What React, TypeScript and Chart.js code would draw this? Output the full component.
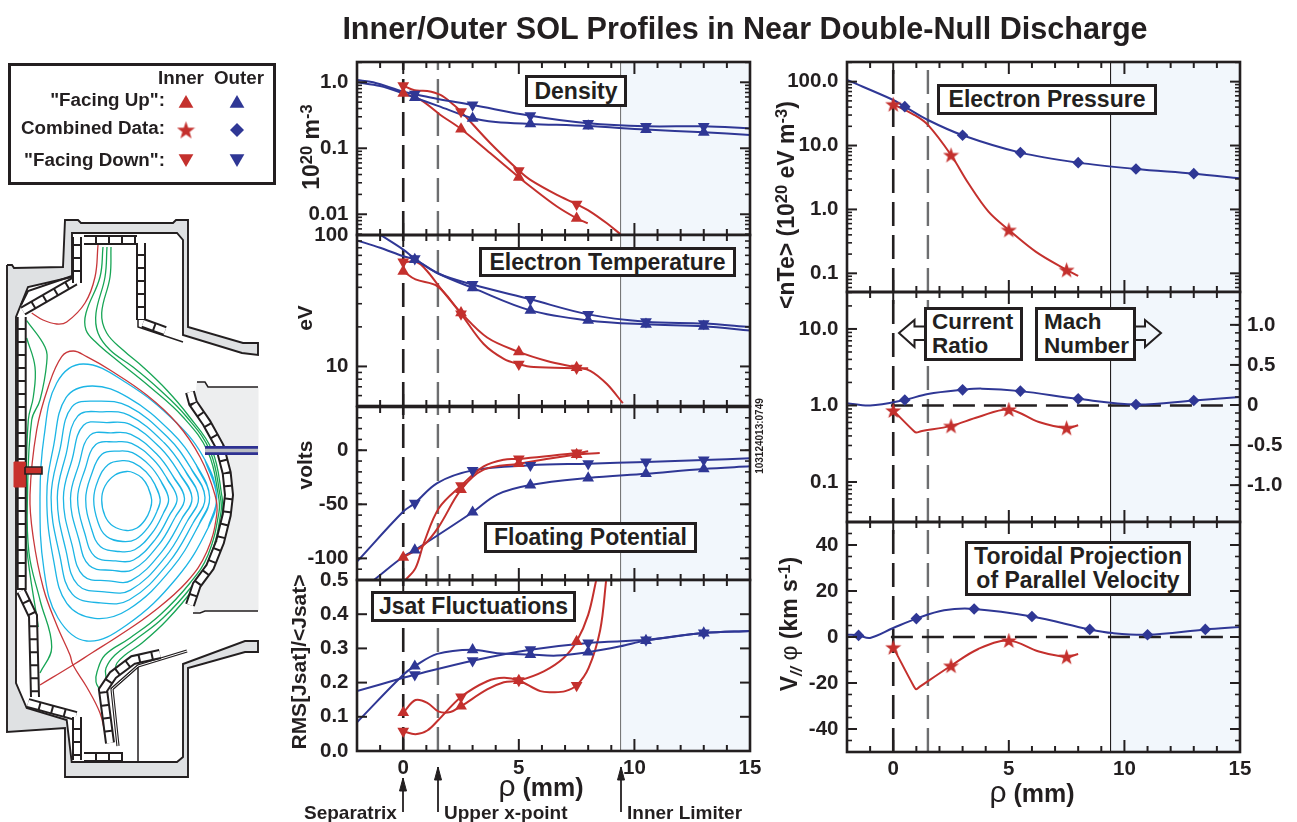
import React, { useEffect, useRef } from "react";
import { Chart, registerables } from "chart.js";
Chart.register(...registerables);

type P = [number, number];
const FONT = '"Liberation Sans", Arial, sans-serif';
const DARK = "#231f20";
const RED = "#c4302d";
const BLUE = "#2f3795";
const SHADE = "#f2f7fc";

// rho positions of the probe points
const rhoOuter = [0.5, 3, 5.5, 8, 10.5, 13];
const rhoInner = [0, 2.5, 5, 7.5];
const rhoVelOuter = [-1.5, 1, 3.5, 6, 8.5, 11, 13.5];
const rhoLimiter = 9.4;
const rhoXpoint = 1.5;

// Density (1e20 m^-3)
const densOuterUpMarks = [0.586, 0.285, 0.234, 0.217, 0.192, 0.175];
const densOuterDownMarks = [0.66, 0.453, 0.312, 0.239, 0.215, 0.215];
const densInnerUpMarks = [0.68, 0.196, 0.0364, 0.0087];
const densInnerDownMarks = [0.89, 0.36, 0.0459, 0.0142];
const densOuterUpLine: P[] = [[-2, 1.0], [-1, 0.88], [0, 0.68], [0.5, 0.586], [1.5, 0.44], [3, 0.285], [4, 0.25], [5.5, 0.234], [8, 0.217], [10.5, 0.192], [13, 0.175], [15, 0.159]];
const densOuterDownLine: P[] = [[-2, 1.08], [-1.3, 1.0], [0, 0.72], [0.5, 0.66], [1.5, 0.56], [3, 0.453], [5.5, 0.312], [8, 0.239], [10.5, 0.215], [13, 0.215], [15, 0.2]];
const densInnerDownLine: P[] = [[0, 0.89], [0.49, 0.756], [1.04, 0.739], [1.61, 0.643], [2.19, 0.454], [2.5, 0.36], [3.77, 0.119], [5, 0.0459], [5.5, 0.0331], [6.65, 0.0196], [7.5, 0.0142], [8.09, 0.011], [8.81, 0.0073], [9.39, 0.005]];
const densInnerUpLine: P[] = [[0, 0.68], [0.75, 0.54], [1.61, 0.32], [2.5, 0.196], [3.77, 0.084], [5, 0.0364], [5.5, 0.0263], [6.65, 0.0131], [7.5, 0.0087], [7.98, 0.0073]];

// Electron temperature (eV)
const teOuterUpMarks = [65, 39.6, 26.7, 22.4, 20.9, 20.2];
const teOuterDownMarks = [66, 42, 32.4, 24.9, 21.9, 21.2];
const teInnerUpMarks = [53, 25.6, 12.9, 9.8];
const teInnerDownMarks = [62.4, 25.1, 10.4, 9.7];
const teOuterUpLine: P[] = [[-2, 91], [-1, 80], [0, 69], [0.5, 65], [1.54, 50.7], [3, 39.6], [5.5, 26.7], [8, 22.4], [10.5, 20.9], [13, 20.2], [15, 18.8]];
const teOuterDownLine: P[] = [[-0.98, 100], [0, 77.4], [0.5, 66], [1.54, 50.7], [3, 42], [5.5, 32.4], [8, 24.9], [10.5, 21.9], [13, 21.2], [15, 20]];
const teInnerUpLine: P[] = [[0, 53], [0.53, 45.9], [1.47, 40.8], [2.5, 25.6], [3.63, 16.6], [5, 12.9], [6.22, 11], [7.5, 9.8], [8.09, 9.27], [8.81, 7.35], [9.5, 5.25]];
const teInnerDownLine: P[] = [[0, 62.4], [0.6, 62], [1.04, 53], [1.54, 40.8], [2.5, 25.1], [3.48, 14.8], [4.35, 11.4], [5, 10.4], [5.64, 9.9], [7.5, 9.7], [8, 9.7]];

// Floating potential (volts)
const vfOuterDownMarks = [-48.9, -18.6, -13.9, -12.4, -10.8, -9];
const vfOuterUpMarks = [-92.3, -57.3, -32.2, -25.7, -21.7, -17.3];
const vfInnerUpMarks = [-99, -36.5, -12.4, -4];
const vfInnerDownRho = [2.5, 5, 7.5];
const vfInnerDownMarks = [-32.8, -8, -2.5];
const vfOuterDownLine: P[] = [[-2, -103], [0, -56.7], [0.5, -48.9], [1.47, -30.3], [3, -18.6], [5.5, -13.9], [8, -12.4], [10.5, -10.8], [13, -9], [15, -7.4]];
const vfOuterUpLine: P[] = [[-1.27, -120], [0, -98.5], [0.5, -92.3], [3, -57.3], [4.06, -41], [5.5, -32.2], [8, -25.7], [10.5, -21.7], [13, -17.3], [15, -14.9]];
const vfInnerUpLine: P[] = [[0, -99], [0.89, -87.6], [1.54, -70.6], [2.5, -36.5], [3.48, -18], [5, -12.4], [7.5, -4], [8.5, -2.5]];
const vfInnerDownLine: P[] = [[0.1, -120], [0.53, -109], [0.89, -86], [1.54, -53.6], [2.5, -32.8], [3.48, -14.9], [4.35, -8.7], [5, -8], [7.5, -2.5], [8, -1]];

// Jsat fluctuations
const jsOuterUpMarks = [0.248, 0.296, 0.282, 0.289, 0.323, 0.345];
const jsOuterDownMarks = [0.223, 0.264, 0.296, 0.316, 0.325, 0.345];
const jsInnerUpMarks = [0.112, 0.131, 0.206, 0.32];
const jsInnerDownMarks = [0.058, 0.158, 0.206, 0.192];
const jsOuterUpLine: P[] = [[-2, 0.084], [0, 0.223], [0.5, 0.248], [1.47, 0.284], [3, 0.296], [4.06, 0.286], [5.5, 0.282], [6.65, 0.279], [8, 0.289], [9.39, 0.306], [10.5, 0.323], [13, 0.345], [15, 0.351]];
const jsOuterDownLine: P[] = [[-2, 0.175], [0, 0.214], [0.5, 0.223], [3, 0.264], [5.5, 0.296], [8, 0.316], [10.5, 0.325], [13, 0.345], [15, 0.351]];
const jsInnerUpLine: P[] = [[0, 0.112], [0.53, 0.149], [1.04, 0.141], [1.54, 0.115], [2.04, 0.114], [2.5, 0.131], [3.63, 0.18], [4.35, 0.201], [5, 0.206], [6.08, 0.233], [6.94, 0.272], [7.5, 0.32], [8, 0.398], [8.35, 0.5]];
const jsInnerDownLine: P[] = [[0, 0.058], [0.53, 0.049], [1.04, 0.06], [1.54, 0.092], [2.5, 0.158], [3.63, 0.204], [4.35, 0.214], [5, 0.206], [5.93, 0.175], [6.51, 0.172], [7.01, 0.175], [7.5, 0.192], [8.02, 0.243], [8.52, 0.354], [8.78, 0.5]];

// Electron pressure
const peOuterMarks = [40.6, 14.5, 7.75, 5.4, 4.3, 3.63];
const peInnerMarks = [44.2, 7.1, 0.478, 0.113];
const peOuterLine: P[] = [[-2, 106], [0, 51.6], [0.5, 40.6], [1.5, 25.1], [3, 14.5], [5.5, 7.75], [8, 5.4], [10.5, 4.3], [13, 3.63], [15, 3.07]];
const peInnerLine: P[] = [[0, 44.2], [0.92, 30], [1.5, 21], [2.5, 7.1], [3.25, 2.57], [4.12, 0.925], [5, 0.478], [6.16, 0.219], [7.5, 0.113], [8, 0.091]];

// Current ratio / Mach number
const crOuterMarks = [1.18, 1.6, 1.54, 1.22, 1.03, 1.16];
const crInnerMarks = [0.861, 0.541, 0.887, 0.509];
const crOuterLine: P[] = [[-2, 1.07], [-1, 1.0], [0.48, 1.18], [1.5, 1.41], [3, 1.6], [3.83, 1.66], [5.5, 1.54], [8, 1.22], [10.5, 1.03], [13, 1.16], [15, 1.29]];
const crInnerLine: P[] = [[0, 0.861], [0.9, 0.46], [1, 0.443], [1.2, 0.46], [2.5, 0.541], [3.68, 0.706], [5, 0.887], [6.3, 0.608], [7.5, 0.509], [8, 0.551]];

// Toroidal velocity (km/s)
const vtOuterMarks = [0.7, 8, 12.2, 8.9, 3.3, 1, 3.3];
const vtInnerMarks = [-4.5, -12.5, -1.5, -8.6];
const vtOuterLine: P[] = [[-2, 1], [-1.5, 0.7], [-1, -0.4], [0, 3.9], [1, 8], [2.2, 11.6], [3.5, 12.2], [6, 8.9], [8.5, 3.3], [9.5, 1.7], [11, 1], [13.5, 3.3], [15, 4.4]];
const vtInnerLine: P[] = [[0, -4.5], [0.9, -21.6], [1, -22.7], [1.15, -21.6], [2.5, -12.5], [3.68, -5.2], [5, -1.5], [6.3, -6.3], [7.5, -8.6], [8, -7.4]];

// Tick labels
const xMajor = [0, 5, 10, 15];
const xLabels = ["0", "5", "10", "15"];
const densTicks = [1, 0.1, 0.01];
const densLabels = ["1.0", "0.1", "0.01"];
const teTicks = [100, 10];
const teLabels = ["100", "10"];
const vfTicks = [0, -50, -100];
const vfLabels = ["0", "-50", "-100"];
const jsTicks = [0, 0.1, 0.2, 0.3, 0.4, 0.5];
const jsLabels = ["0.0", "0.1", "0.2", "0.3", "0.4", "0.5"];
const peTicks = [100, 10, 1, 0.1];
const peLabels = ["100.0", "10.0", "1.0", "0.1"];
const crTicks = [10, 1, 0.1];
const crLabels = ["10.0", "1.0", "0.1"];
const machTicks = [1, 0.5, 0, -0.5, -1];
const machLabels = ["1.0", "0.5", "0", "-0.5", "-1.0"];
const vtTicks = [40, 20, 0, -20, -40];
const vtLabels = ["40", "20", "0", "-20", "-40"];

// Machine cross-section (page pixels)
const fluxSurfaces: P[][] = [
  [[151.7, 500], [148, 487], [142, 478], [134, 473], [126.7, 471.5], [115, 475], [105, 486], [101.7, 500], [105, 516], [113, 526], [126.7, 530.5], [137, 528], [145, 520], [150, 510], [151.7, 500]],
  [[160.2, 499.6], [154.6, 483.9], [146, 471.7], [133.2, 462.6], [122.4, 460.7], [108.3, 464.4], [98, 480.4], [93.7, 499.6], [98, 522.2], [106.7, 536.6], [122.7, 541.5], [135.8, 539.2], [148.6, 526.7], [156.7, 512], [160.2, 499.6]],
  [[168.6, 499.2], [160.8, 480.9], [149.8, 465.6], [132.4, 452.7], [118.5, 451.1], [101.9, 454.3], [91.3, 475], [85.7, 499.2], [91.3, 528.2], [100.6, 546.7], [119.1, 551.5], [134.7, 549.8], [152.1, 533], [163, 514], [168.6, 499.2]],
  [[177.1, 498.8], [166.8, 478.1], [153.5, 459.8], [131.6, 443.3], [114.8, 441.9], [95.8, 444.6], [84.9, 469.8], [77.6, 498.8], [84.9, 533.8], [94.8, 556.4], [115.7, 560.9], [133.6, 560], [155.5, 539.1], [169.1, 515.9], [177.1, 498.8]],
  [[184.5, 498.5], [172.5, 475.4], [156.9, 454.3], [130.9, 434.3], [111.1, 432.8], [89.9, 435.4], [78.8, 464.9], [70.5, 498.5], [78.8, 539.2], [89.3, 565.6], [112.3, 570.3], [132.6, 569.7], [158.6, 544.9], [174.9, 517.7], [184.5, 498.5]],
  [[192, 498.1], [178.8, 472.4], [160.7, 448.3], [130.1, 424.4], [107, 422.6], [83.5, 425.3], [72.1, 459.5], [63.4, 498.1], [72.1, 545.2], [83.3, 575.7], [108.5, 580.8], [131.4, 580.4], [162.1, 551.3], [181.3, 519.7], [192, 498.1]],
  [[198.5, 497.8], [184.5, 469.7], [164.2, 442.8], [129.3, 415.4], [102.6, 411.8], [77.7, 416.1], [66, 454.6], [57.3, 497.8], [66, 550.6], [77.8, 584.9], [104.5, 591.8], [130.4, 590.1], [165.3, 557.1], [187.1, 521.5], [198.5, 497.8]],
  [[205, 497.5], [190.2, 467], [167.7, 437.3], [128.6, 406.4], [98.3, 401.1], [71.9, 406.9], [59.9, 449.7], [51.1, 497.5], [59.9, 556], [72.3, 594.1], [100.5, 602.9], [129.4, 599.8], [168.5, 562.9], [192.9, 523.3], [205, 497.5]],
  [[209.6, 497.3], [195.9, 464.3], [171.1, 431.8], [127.9, 397.4], [92.2, 386], [66, 397.7], [53.8, 444.8], [46.8, 497.3], [53.8, 561.4], [66.8, 603.3], [94.9, 618.3], [128.3, 609.5], [171.6, 568.7], [198.7, 525.1], [209.6, 497.3]],
  [[216.7, 497], [205, 460], [176.7, 423], [126.7, 383], [83.3, 364], [56.7, 383], [44, 437], [40, 497], [44, 570], [58, 618], [86.7, 641], [126.7, 625], [176.7, 578], [208, 528], [216.7, 497]],
];
const separatrixCore: P[] = [[40, 685], [73, 665], [91.7, 653], [120, 635], [153, 612], [186.7, 582], [206.7, 552], [216.7, 515], [215, 495], [200, 457], [176.7, 423], [146.7, 395], [110, 370], [86.7, 356.7], [73.3, 351], [61.7, 356.7], [48.3, 386.7], [36.7, 430], [30, 495], [33.3, 538], [43.3, 588], [56.7, 625], [70, 655], [73, 665], [86.7, 687], [100, 713], [105, 733]];
const separatrixUpper: P[] = [[98, 245], [95, 277], [85, 303], [66.7, 322], [56.7, 324], [43, 320], [31.7, 313]];
const greenOuterA: P[] = [[103, 247], [100, 277], [86, 313], [86, 330], [96.7, 343], [116.7, 360], [150, 387], [183, 417], [208, 452], [218.3, 495], [219, 512], [208, 555], [190, 583], [160, 615], [130, 638], [105, 655], [97, 672], [96, 682], [100, 690]];
const greenOuterB: P[] = [[107, 247], [105, 277], [96, 313], [98, 333], [110, 350], [133, 367], [160, 390], [186.7, 417], [210, 451], [220, 495], [221, 512], [210, 557], [192, 586], [163, 618], [135, 640], [115, 655], [106, 668], [106, 678]];
const greenOuterC: P[] = [[111, 247], [110, 277], [101.7, 313], [106.7, 333], [123, 350], [143, 367], [166.7, 390], [188, 415], [212, 450], [221.7, 495], [222.5, 512], [212, 558], [194, 588], [167, 620], [142, 643], [125, 655], [117, 663], [115, 670]];
const greenInnerA: P[] = [[26.7, 320.7], [45, 347], [46.7, 363], [40, 400], [31.7, 420], [27.5, 495], [29, 553], [40, 600], [51.7, 647], [40, 673]];
const greenInnerB: P[] = [[26.7, 338], [35, 367], [33.3, 397], [28.3, 420], [26, 495], [26.7, 547], [38.3, 627]];
const vesselOutline: P[] = [[7, 265], [12, 265], [14, 268], [63, 267], [65, 220], [78, 220], [81, 223], [173, 223], [176, 220], [188, 220], [188, 327], [243, 343], [258, 343], [258, 355], [242, 353], [183, 335], [183, 240], [177, 233], [72, 233], [72, 277], [28, 287], [16, 317], [16, 683], [26.7, 708], [66.7, 720], [71.7, 762], [177, 762], [183, 757], [183, 664], [245, 641], [258, 641], [258, 652], [245, 652], [188, 668], [188, 777], [65, 777], [65, 728], [7, 732], [7, 265]];
const antennaBlock: P[] = [[197, 382], [205, 382], [208, 387], [258, 387], [258, 611], [200, 611], [195, 613], [193, 605], [198, 585], [212, 567], [222, 542], [229, 515], [231, 495], [229, 473], [222, 447], [208, 423], [195, 403], [197, 382]];
const antennaTop: P[] = [[197, 382], [205, 382], [208, 387], [258, 387]];
const antennaBottom: P[] = [[193, 613], [200, 613], [205, 611], [258, 611]];
const tileInner: P[] = [[21.7, 317], [21.7, 590]];
const tileUpperSlope: P[] = [[23, 311], [75, 281]];
const tileUpperInner: P[] = [[77, 283], [77, 237]];
const tileUpperStep: P[] = [[84, 240], [137, 240]];
const tileUpperRight: P[] = [[141, 243], [141, 320]];
const tileUpperShelf: P[] = [[143, 323], [165, 331]];
const tileLowerInner: P[] = [[21, 591], [33, 616], [35, 697]];
const tileLowerSlope: P[] = [[28, 703], [76, 716]];
const tileLowerPost: P[] = [[77, 717], [77, 760]];
const tileLowerStep: P[] = [[84, 757], [123, 757]];
const tileLowerRight: P[] = [[110, 743], [103, 690], [113, 675], [133, 660], [160, 654]];
const tileOuter: P[] = [[190, 392], [193, 403], [206.7, 423], [220, 447], [226.7, 473], [229, 495], [226.7, 515], [220, 542], [210, 567], [196.7, 585], [190, 605]];
const platesUpper: P[] = [[21, 305], [28, 291], [72, 276]];
const platesLower: P[] = [[118, 746], [112, 689], [138, 666], [187, 651]];
const postUpper: P[] = [[138, 243], [138, 327], [183, 342]];
const postLower: P[] = [[138, 667], [138, 762]];
const portBlue: P[] = [[205, 450.5], [258, 450.5]];
const probeBlock: P[] = [[14, 462], [25, 462], [25, 487], [14, 487], [14, 462]];
const probeArm: P[] = [[25, 467], [42, 467], [42, 474], [25, 474], [25, 467]];

// Legend marks and annotation arrows (page pixels)
const legendInnerX = 186;
const legendOuterX = 237;
const legendUpY = 103.5;
const legendCombinedY = 130;
const legendDownY = 158.5;
const arrowSeparatrix: P[] = [[403, 812], [403, 778]];
const arrowXpoint: P[] = [[438, 812], [438, 767]];
const arrowLimiter: P[] = [[621, 812], [621, 767]];
const currentArrow: P[] = [[924, 326.5], [914.5, 326.5], [914.5, 320], [899, 333], [914.5, 347], [914.5, 340], [924, 340]];
const machArrow: P[] = [[1136, 326.5], [1145, 326.5], [1145, 320], [1161, 333], [1145, 347], [1145, 340], [1136, 340]];

const starCache: Record<string, HTMLCanvasElement> = {};
function star(size: number, color: string) {
  const key = size + color;
  if (starCache[key]) return starCache[key];
  const c = document.createElement("canvas");
  c.width = c.height = size;
  const g = c.getContext("2d")!;
  g.translate(size / 2, size / 2 + size * 0.04);
  g.beginPath();
  const R = size / 2;
  const r = R * 0.4;
  for (let i = 0; i < 10; i++) {
    const a = -Math.PI / 2 + (i * Math.PI) / 5;
    const q = i % 2 ? r : R;
    g.lineTo(Math.cos(a) * q, Math.sin(a) * q);
  }
  g.closePath();
  g.fillStyle = color;
  g.fill();
  starCache[key] = c;
  return c;
}

const zip = (xs: number[], ys: number[]) => xs.map((x, i) => ({ x, y: ys[i] }));
const xy = (pts: P[]) => pts.map(([x, y]) => ({ x, y }));

function line(pts: P[], color: string, width = 2, extra: any = {}) {
  return { data: xy(pts), showLine: true, borderColor: color, borderWidth: width, pointRadius: 0, tension: 0.35, fill: false, ...extra };
}
function marks(xs: number[], ys: number[], kind: string, color: string) {
  const base: any = { data: zip(xs, ys), showLine: false, backgroundColor: color, borderColor: color, borderWidth: 0, pointBorderWidth: 0 };
  if (kind === "up") return { ...base, pointStyle: "triangle", pointRadius: 6.8 };
  if (kind === "down") return { ...base, pointStyle: "triangle", pointRotation: 180, pointRadius: 6.8 };
  if (kind === "diamond") return { ...base, pointStyle: "rectRot", pointRadius: 5.8 };
  return { ...base, pointStyle: star(17, color), pointRadius: 8 };
}

function logMinors(lo: number, hi: number) {
  const out: number[] = [];
  for (let d = Math.floor(Math.log10(lo)); d <= Math.ceil(Math.log10(hi)); d++) {
    for (let m = 2; m <= 9; m++) {
      const v = m * Math.pow(10, d);
      if (v >= lo && v <= hi) out.push(v);
    }
  }
  return out;
}
function stepMinors(lo: number, hi: number, step: number) {
  const out: number[] = [];
  for (let v = Math.ceil(lo / step); v * step <= hi; v++) out.push(v * step);
  return out;
}

interface PanelSpec {
  left: number; top: number; right: number; bottom: number;
  yType: string; yMin: number; yMax: number;
  yTicks: number[]; yLabels: string[]; yMinor: number[];
  showX?: boolean;
  thinColor: string;
  zero?: number;
  datasets: any[];
  mach?: boolean;
}

const LEFT_X = [357, 750.5];
const RIGHT_X = [847, 1240.3];

const panels: PanelSpec[] = [
  {
    left: LEFT_X[0], right: LEFT_X[1], top: 62, bottom: 235, yType: "logarithmic", yMin: 0.00485, yMax: 2.03,
    yTicks: densTicks, yLabels: densLabels, yMinor: logMinors(0.00485, 2.03), thinColor: "#777",
    datasets: [
      line(densInnerUpLine, RED), line(densInnerDownLine, RED), line(densOuterUpLine, BLUE), line(densOuterDownLine, BLUE),
      marks(rhoInner, densInnerUpMarks, "up", RED), marks(rhoInner, densInnerDownMarks, "down", RED),
      marks(rhoOuter, densOuterUpMarks, "up", BLUE), marks(rhoOuter, densOuterDownMarks, "down", BLUE),
    ],
  },
  {
    left: LEFT_X[0], right: LEFT_X[1], top: 235, bottom: 406.7, yType: "logarithmic", yMin: 5, yMax: 100,
    yTicks: teTicks, yLabels: teLabels, yMinor: logMinors(5, 100), thinColor: "#777",
    datasets: [
      line(teInnerUpLine, RED), line(teInnerDownLine, RED), line(teOuterUpLine, BLUE), line(teOuterDownLine, BLUE),
      marks(rhoInner, teInnerUpMarks, "up", RED), marks(rhoInner, teInnerDownMarks, "down", RED),
      marks(rhoOuter, teOuterUpMarks, "up", BLUE), marks(rhoOuter, teOuterDownMarks, "down", BLUE),
    ],
  },
  {
    left: LEFT_X[0], right: LEFT_X[1], top: 406.7, bottom: 580, yType: "linear", yMin: -120, yMax: 40,
    yTicks: vfTicks, yLabels: vfLabels, yMinor: stepMinors(-120, 40, 10), thinColor: "#777",
    datasets: [
      line(vfOuterDownLine, BLUE), line(vfOuterUpLine, BLUE), line(vfInnerUpLine, RED), line(vfInnerDownLine, RED),
      marks(rhoOuter, vfOuterUpMarks, "up", BLUE), marks(rhoOuter, vfOuterDownMarks, "down", BLUE),
      marks(rhoInner, vfInnerUpMarks, "up", RED), marks(vfInnerDownRho, vfInnerDownMarks, "down", RED),
    ],
  },
  {
    left: LEFT_X[0], right: LEFT_X[1], top: 580, bottom: 751.7, yType: "linear", yMin: 0, yMax: 0.5,
    yTicks: jsTicks, yLabels: jsLabels, yMinor: [], thinColor: "#777", showX: true,
    datasets: [
      line(jsInnerUpLine, RED), line(jsInnerDownLine, RED), line(jsOuterUpLine, BLUE), line(jsOuterDownLine, BLUE),
      marks(rhoInner, jsInnerUpMarks, "up", RED), marks(rhoInner, jsInnerDownMarks, "down", RED),
      marks(rhoOuter, jsOuterUpMarks, "up", BLUE), marks(rhoOuter, jsOuterDownMarks, "down", BLUE),
    ],
  },
  {
    left: RIGHT_X[0], right: RIGHT_X[1], top: 62, bottom: 292, yType: "logarithmic", yMin: 0.051, yMax: 203,
    yTicks: peTicks, yLabels: peLabels, yMinor: logMinors(0.051, 203), thinColor: DARK,
    datasets: [line(peInnerLine, RED), line(peOuterLine, BLUE), marks(rhoOuter, peOuterMarks, "diamond", BLUE), marks(rhoInner, peInnerMarks, "star", RED)],
  },
  {
    left: RIGHT_X[0], right: RIGHT_X[1], top: 292, bottom: 522, yType: "logarithmic", yMin: 0.03, yMax: 30.4,
    yTicks: crTicks, yLabels: crLabels, yMinor: logMinors(0.03, 30.4), thinColor: DARK, zero: 1, mach: true,
    datasets: [line(crInnerLine, RED), line(crOuterLine, BLUE), marks(rhoOuter, crOuterMarks, "diamond", BLUE), marks(rhoInner, crInnerMarks, "star", RED)],
  },
  {
    left: RIGHT_X[0], right: RIGHT_X[1], top: 522, bottom: 752, yType: "linear", yMin: -50, yMax: 50,
    yTicks: vtTicks, yLabels: vtLabels, yMinor: stepMinors(-50, 50, 5), thinColor: DARK, zero: 0, showX: true,
    datasets: [line(vtInnerLine, RED), line(vtOuterLine, BLUE), marks(rhoVelOuter, vtOuterMarks, "diamond", BLUE), marks(rhoInner, vtInnerMarks, "star", RED)],
  },
];

const ML = 80, MR = 70, MT = 14, MB = 40;

function framePlugin(p: PanelSpec) {
  return {
    id: "frame",
    beforeDatasetsDraw(c: any) {
      const { ctx, chartArea: a, scales } = c;
      const x0 = scales.x.getPixelForValue(rhoLimiter);
      ctx.save();
      ctx.fillStyle = SHADE;
      ctx.fillRect(x0, a.top, a.right - x0, a.bottom - a.top);
      ctx.restore();
    },
    afterDatasetsDraw(c: any) {
      const { ctx, chartArea: a, scales } = c;
      ctx.save();
      ctx.strokeStyle = DARK;
      const seg = (x1: number, y1: number, x2: number, y2: number, w: number) => {
        ctx.lineWidth = w;
        ctx.beginPath();
        ctx.moveTo(x1, y1);
        ctx.lineTo(x2, y2);
        ctx.stroke();
      };
      for (const v of stepMinors(-2, 15, 1)) {
        const x = scales.x.getPixelForValue(v);
        const len = xMajor.includes(v) ? 12 : 6;
        seg(x, a.top, x, a.top + len, 2);
        seg(x, a.bottom, x, a.bottom - len, 2);
      }
      const y = scales.y;
      for (const v of p.yTicks) {
        const py = y.getPixelForValue(v);
        seg(a.left, py, a.left + 10, py, 2);
        if (!p.mach) seg(a.right, py, a.right - 10, py, 2);
      }
      for (const v of p.yMinor) {
        const py = y.getPixelForValue(v);
        seg(a.left, py, a.left + 5, py, 1.6);
        if (!p.mach) seg(a.right, py, a.right - 5, py, 1.6);
      }
      if (p.mach) {
        const y1 = scales.y1;
        for (const v of machTicks) {
          const py = y1.getPixelForValue(v);
          seg(a.right, py, a.right - 10, py, 2);
        }
        for (const v of stepMinors(-1.4, 1.4, 0.1)) {
          const py = y1.getPixelForValue(v);
          seg(a.right, py, a.right - 5, py, 1.6);
        }
      }
      ctx.lineWidth = 2.6;
      ctx.strokeRect(a.left, a.top, a.right - a.left, a.bottom - a.top);
      ctx.restore();
    },
  };
}

function PanelChart({ p }: { p: PanelSpec }) {
  const ref = useRef<HTMLCanvasElement>(null);
  useEffect(() => {
    const tickFont = { family: FONT, weight: "bold" as const, size: 20.5 };
    const fit = (w?: number, h?: number) => (s: any) => {
      if (w !== undefined) s.width = w;
      if (h !== undefined) s.height = h;
      s.paddingLeft = s.paddingRight = s.paddingTop = s.paddingBottom = 0;
    };
    const guides = [
      line([[rhoLimiter, p.yMin], [rhoLimiter, p.yMax]], p.thinColor, 1.1, { tension: 0 }),
      line([[0, p.yMin], [0, p.yMax]], DARK, 2.6, { tension: 0, borderDash: [24, 9] }),
      line([[rhoXpoint, p.yMin], [rhoXpoint, p.yMax]], "#6d6e70", 2.4, { tension: 0, borderDash: [24, 9] }),
    ];
    if (p.zero !== undefined) {
      guides.push(line([[-0.1, p.zero], [14.6, p.zero]], DARK, 2.4, { tension: 0, borderDash: [22, 9] }));
    }
    const all = [...guides, ...p.datasets];
    const scales: any = {
      x: {
        type: "linear", min: -2, max: 15,
        grid: { display: false, drawTicks: false }, border: { display: false },
        afterBuildTicks: (s: any) => { s.ticks = xMajor.map((value) => ({ value })); },
        afterFit: fit(undefined, MB),
        ticks: {
          display: !!p.showX, autoSkip: false, maxRotation: 0, padding: 5, color: DARK, font: tickFont,
          callback: (_: any, i: number) => xLabels[i],
        },
      },
      y: {
        type: p.yType, position: "left", min: p.yMin, max: p.yMax,
        grid: { display: false, drawTicks: false }, border: { display: false },
        afterBuildTicks: (s: any) => { s.ticks = p.yTicks.map((value) => ({ value })); },
        afterFit: fit(ML, undefined),
        ticks: { autoSkip: false, maxRotation: 0, padding: 8.5, color: DARK, font: tickFont, callback: (_: any, i: number) => p.yLabels[i] },
      },
    };
    if (p.mach) {
      scales.y1 = {
        type: "linear", position: "right", display: true, min: -1.46, max: 1.41,
        grid: { display: false, drawTicks: false }, border: { display: false },
        afterBuildTicks: (s: any) => { s.ticks = machTicks.map((value) => ({ value })); },
        afterFit: fit(MR, undefined),
        ticks: { autoSkip: false, maxRotation: 0, padding: 7, color: DARK, font: tickFont, callback: (_: any, i: number) => machLabels[i] },
      };
    }
    const chart = new Chart(ref.current!, {
      type: "scatter",
      data: { datasets: all.slice().reverse() },
      plugins: [framePlugin(p)],
      options: {
        responsive: false, animation: false, events: [],
        layout: { autoPadding: false, padding: { top: MT, right: p.mach ? 0 : MR, left: 0, bottom: 0 } },
        plugins: { legend: { display: false }, tooltip: { enabled: false } },
        scales,
      },
    } as any);
    return () => chart.destroy();
  }, [p]);
  return (
    <canvas
      ref={ref}
      width={p.right - p.left + ML + MR}
      height={p.bottom - p.top + MT + MB}
      style={{ position: "absolute", left: p.left - ML, top: p.top - MT }}
    />
  );
}

function tiles(path: P[], extra = {}) {
  return [
    line(path, DARK, 10, { tension: 0, ...extra }),
    line(path, "#ffffff", 6, { tension: 0, borderDash: [11, 2], ...extra }),
  ];
}
// wrap a closed outline so the curve is smooth where it meets its own start
const closedLoop = (pts: P[]): P[] => [pts[pts.length - 2], ...pts, pts[1]];

function Overlay() {
  const ref = useRef<HTMLCanvasElement>(null);
  useEffect(() => {
    const px = (pts: P[], color: string, w: number) => line(pts, color, w, { tension: 0 });
    const shape = (pts: P[], fillCol: string, stroke: string, w: number) =>
      line(pts, stroke, w, { tension: 0, fill: "shape", backgroundColor: fillCol });
    const CY = "#1cb5e5", GR = "#17a555", RD = "#c8373a";
    const soft = (pts: P[], color: string, w = 1.3) => line(pts, color, w, { tension: 0.4 });
    const head = (x: number, y: number) => shape([[x - 3.5, y + 13], [x, y], [x + 3.5, y + 13], [x - 3.5, y + 13]], DARK, DARK, 1);
    const draw: any[] = [
      shape(antennaBlock, "#edeeef", "#edeeef", 0.5),
      shape(vesselOutline, "#dfe1e3", DARK, 1.9),
      px(antennaTop, DARK, 1.5), px(antennaBottom, DARK, 1.5),
      ...fluxSurfaces.map((s) => line(closedLoop(s), CY, 1.3, { tension: 0.4 })),
      soft(greenOuterA, GR), soft(greenOuterB, GR), soft(greenOuterC, GR), soft(greenInnerA, GR), soft(greenInnerB, GR),
      soft(separatrixCore, RD), soft(separatrixUpper, RD),
      px(platesUpper, DARK, 2), px(platesLower, DARK, 3.2), px(platesLower, "#ffffff", 1),
      px(postUpper, DARK, 1.5), px(postLower, DARK, 1.5),
      ...tiles(tileInner), ...tiles(tileUpperSlope), ...tiles(tileUpperInner), ...tiles(tileUpperStep),
      ...tiles(tileUpperRight), ...tiles(tileUpperShelf), ...tiles(tileLowerInner), ...tiles(tileLowerSlope),
      ...tiles(tileLowerPost), ...tiles(tileLowerStep), ...tiles(tileLowerRight), ...tiles(tileOuter),
      px(portBlue, "#2e3192", 9), px(portBlue, "#b9bcc2", 3.4),
      shape(probeBlock, "#c8302c", "#c8302c", 1), shape(probeArm, "#c8302c", DARK, 1.6),
      px(arrowSeparatrix, DARK, 1.8), head(403, 778), px(arrowXpoint, DARK, 1.8), head(438, 767), px(arrowLimiter, DARK, 1.8), head(621, 767),
      px(currentArrow, DARK, 2), px(machArrow, DARK, 2),
      { ...marks([legendInnerX], [legendUpY], "up", RED), pointRadius: 8.5 },
      { ...marks([legendOuterX], [legendUpY], "up", BLUE), pointRadius: 8.5 },
      { ...marks([legendInnerX], [legendCombinedY], "star", RED), pointStyle: star(19, RED) },
      { ...marks([legendOuterX], [legendCombinedY], "diamond", BLUE), pointRadius: 7 },
      { ...marks([legendInnerX], [legendDownY], "down", RED), pointRadius: 8.5 },
      { ...marks([legendOuterX], [legendDownY], "down", BLUE), pointRadius: 8.5 },
    ];
    const chart = new Chart(ref.current!, {
      type: "scatter",
      data: { datasets: draw.slice().reverse() },
      options: {
        responsive: false, animation: false, events: [],
        layout: { autoPadding: false, padding: 0 },
        plugins: { legend: { display: false }, tooltip: { enabled: false } },
        scales: {
          x: { type: "linear", min: 0, max: 1297, display: false },
          y: { type: "linear", min: 0, max: 822, reverse: true, display: false },
        },
      },
    } as any);
    return () => chart.destroy();
  }, []);
  return <canvas ref={ref} width={1297} height={822} style={{ position: "absolute", left: 0, top: 0 }} />;
}

const textBase: React.CSSProperties = { position: "absolute", fontFamily: FONT, fontWeight: 700, color: DARK, whiteSpace: "nowrap" };
const supStyle: React.CSSProperties = { fontSize: "0.72em", verticalAlign: "baseline", position: "relative", top: "-0.45em", lineHeight: 0 };

function Box({ x0, x1, y0, y1, size = 23, lh, children }: any) {
  return (
    <div style={{ ...textBase, left: x0, top: y0, width: x1 - x0, height: y1 - y0, boxSizing: "border-box", border: `3px solid ${DARK}`, background: "#fff", fontSize: size, lineHeight: lh ? `${lh}px` : `${y1 - y0 - 6}px`, textAlign: "center" }}>
      {children}
    </div>
  );
}
function Label({ x, y, size = 20, anchor = "left", children }: any) {
  const tx = anchor === "right" ? "-100%" : anchor === "center" ? "-50%" : "0";
  return <div style={{ ...textBase, left: x, top: y, fontSize: size, lineHeight: 1, transform: `translate(${tx},-50%)` }}>{children}</div>;
}
function VLabel({ x, y, size = 21, children }: any) {
  return <div style={{ ...textBase, left: x, top: y, fontSize: size, lineHeight: 1, transform: "translate(-50%,-50%) rotate(-90deg)" }}>{children}</div>;
}
const Sup = ({ children }: any) => <span style={supStyle}>{children}</span>;

export default function App() {
  useEffect(() => {
    document.body.style.margin = "0";
    document.body.style.background = "#fff";
  }, []);
  return (
    <div style={{ position: "absolute", left: 0, top: 0, width: 1297, height: 822, overflow: "hidden", background: "#fff" }}>
      {panels.map((p, i) => <PanelChart key={i} p={p} />)}
      <Overlay />

      <div style={{ ...textBase, left: 0, top: 8, width: 1490, textAlign: "center", fontSize: 30.6, lineHeight: "40px" }}>Inner/Outer SOL Profiles in Near Double-Null Discharge</div>

      <div style={{ position: "absolute", left: 8, top: 63, width: 268, height: 122, boxSizing: "border-box", border: `3px solid ${DARK}` }} />
      <Label x={158} y={78} size={18.8}>Inner</Label>
      <Label x={214} y={78} size={18.8}>Outer</Label>
      <Label x={165} y={100} size={18.8} anchor="right">"Facing Up":</Label>
      <Label x={165} y={128} size={18.8} anchor="right">Combined Data:</Label>
      <Label x={165} y={160} size={18.8} anchor="right">"Facing Down":</Label>

      <Box x0={525} x1={627} y0={75} y1={107}>Density</Box>
      <Box x0={479} x1={736} y0={247} y1={277}>Electron Temperature</Box>
      <Box x0={484} x1={697} y0={522} y1={553}>Floating Potential</Box>
      <Box x0={371} x1={576} y0={591} y1={622}>Jsat Fluctuations</Box>
      <Box x0={937} x1={1157} y0={84} y1={115}>Electron Pressure</Box>
      <Box x0={965} x1={1191} y0={541} y1={596} lh={24}>Toroidal Projection<br />of Parallel Velocity</Box>
      <Box x0={924} x1={1023} y0={307} y1={361} size={22.5} lh={24}><div style={{ textAlign: "left", paddingLeft: 5 }}>Current<br />Ratio</div></Box>
      <Box x0={1035} x1={1136} y0={307} y1={361} size={22.5} lh={24}><div style={{ textAlign: "left", paddingLeft: 6 }}>Mach<br />Number</div></Box>

      <VLabel x={311} y={147} size={23}>10<Sup>20</Sup> m<Sup>-3</Sup></VLabel>
      <VLabel x={304} y={318}>eV</VLabel>
      <VLabel x={304} y={465}>volts</VLabel>
      <VLabel x={298} y={662} size={21}>RMS[Jsat]/&lt;Jsat&gt;</VLabel>
      <VLabel x={786} y={205} size={23}>&lt;nTe&gt; (10<Sup>20</Sup> eV m<Sup>-3</Sup>)</VLabel>
      <VLabel x={789} y={624} size={23}>V<span style={{ fontSize: "0.7em", position: "relative", top: "0.3em", fontStyle: "italic" }}>//</span> <span style={{ fontWeight: 400 }}>φ</span> (km s<Sup>-1</Sup>)</VLabel>

      <Label x={541} y={786} size={25} anchor="center"><span style={{ fontWeight: 400, fontSize: 30 }}>ρ</span> (mm)</Label>
      <Label x={1032} y={792} size={25} anchor="center"><span style={{ fontWeight: 400, fontSize: 30 }}>ρ</span> (mm)</Label>
      <Label x={304} y={812} size={19}>Separatrix</Label>
      <Label x={444} y={812} size={19}>Upper x-point</Label>
      <Label x={627} y={812} size={19}>Inner Limiter</Label>
      <div style={{ ...textBase, left: 760, top: 436, fontSize: 10, lineHeight: 1, transform: "translate(-50%,-50%) rotate(-90deg)" }}>103124013:0749</div>
    </div>
  );
}
